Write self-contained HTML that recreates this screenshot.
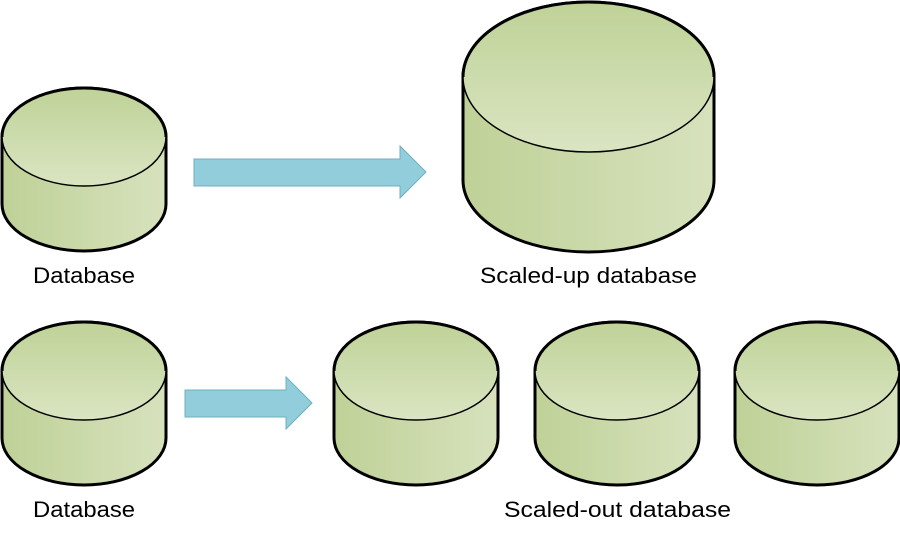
<!DOCTYPE html>
<html><head><meta charset="utf-8"><style>html,body{margin:0;padding:0;background:#fff}svg{display:block}</style></head>
<body>
<svg width="900" height="540" viewBox="0 0 900 540" xmlns="http://www.w3.org/2000/svg">
<defs>
<linearGradient id="side" x1="0" y1="0" x2="1" y2="0">
<stop offset="0" stop-color="#bfd197"/><stop offset="1" stop-color="#d7e2bd"/></linearGradient>
<linearGradient id="top" x1="0" y1="0" x2="0" y2="1">
<stop offset="0" stop-color="#bfd297"/><stop offset="1" stop-color="#dae5c2"/></linearGradient>
<g id="cyl">
<path d="M-82,50 A82,49 0 0 1 82,50 V117 A82,47 0 0 1 -82,117 Z" fill="url(#side)" stroke="#000" stroke-width="3"/>
<ellipse cx="0" cy="50" rx="82" ry="49" fill="url(#top)" stroke="#000" stroke-width="1.5"/>
<path d="M-82,50 A82,49 0 0 1 82,50" fill="none" stroke="#000" stroke-width="3"/>
</g>
</defs>
<use href="#cyl" x="84" y="87"/>
<use href="#cyl" x="84" y="321"/>
<use href="#cyl" x="416" y="321"/>
<use href="#cyl" x="617" y="321"/>
<use href="#cyl" x="817" y="321"/>
<path d="M463,77 A125.5,75 0 0 1 714,77 V180 A125.5,72 0 0 1 463,180 Z" fill="url(#side)" stroke="#000" stroke-width="3"/>
<ellipse cx="588.5" cy="77" rx="125.5" ry="75" fill="url(#top)" stroke="#000" stroke-width="1.5"/>
<path d="M463,77 A125.5,75 0 0 1 714,77" fill="none" stroke="#000" stroke-width="3"/>
<polygon points="194,159 400,159 400,146 426,172 400,198 400,186 194,186" fill="#92cddc" stroke="#6fb0c0" stroke-width="1"/>
<polygon points="185,390 286,390 286,377 312,403 286,429 286,417 185,417" fill="#92cddc" stroke="#6fb0c0" stroke-width="1"/>
<g font-family="Liberation Sans, sans-serif" font-size="22" fill="#000">
<text x="33" y="283" textLength="102" lengthAdjust="spacingAndGlyphs">Database</text>
<text x="480" y="283" textLength="217" lengthAdjust="spacingAndGlyphs">Scaled-up database</text>
<text x="33" y="517" textLength="102" lengthAdjust="spacingAndGlyphs">Database</text>
<text x="504" y="517" textLength="227" lengthAdjust="spacingAndGlyphs">Scaled-out database</text>
</g>
</svg>
</body></html>
